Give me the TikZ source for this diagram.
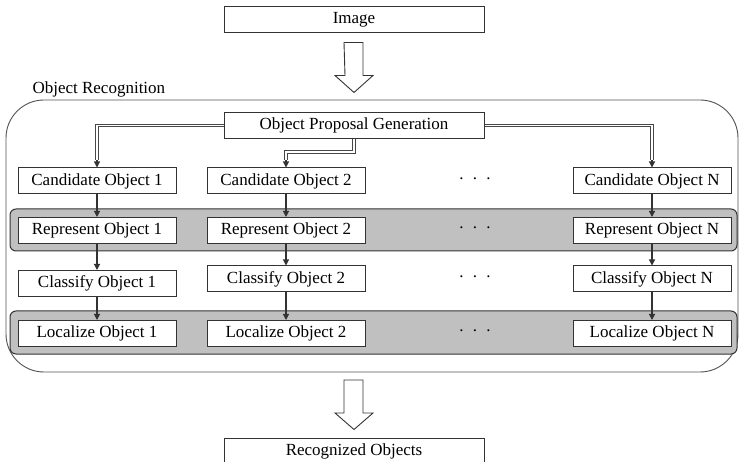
\documentclass[tikz,border=0pt]{standalone}
\usepackage{fontspec}
\setmainfont{Liberation Serif}
\usetikzlibrary{arrows.meta,calc}
\definecolor{edge}{HTML}{333333}
\definecolor{band}{HTML}{C0C0C0}
\begin{document}
\begin{tikzpicture}[x=1pt,y=-1pt,
  every node/.style={font=\rmfamily\fontsize{17}{20}\selectfont},
  stage/.style={draw=edge, line width=1pt, fill=white, minimum width=158pt,
                minimum height=26pt, inner sep=0pt},
  wide/.style={stage, minimum width=260pt},
  flow/.style={draw=edge, line width=1.1pt, -{Triangle[length=6pt,width=6pt]}},
  feed/.style={draw=edge!90, line width=3.2pt, line join=miter,
               postaction={draw=white, line width=1.4pt}},
  bandbox/.style={draw=edge, line width=1pt, fill=band, rounded corners=6pt},
  hollow/.style={draw=edge, line width=0.9pt, fill=white, line join=miter},
  dots/.style={inner sep=0pt}]

\useasboundingbox (0,0) rectangle (739,462);
\clip (0,0) rectangle (739,462);

% outer container of the recognition stage
\draw[draw=edge!85, line width=0.9pt, rounded corners=38pt] (6,100) rectangle (738,372);
\node[anchor=west] (title) at (29,89) {Object Recognition};

% shaded rows
\draw[bandbox] (10,209) rectangle (737,251);
\draw[bandbox] (10,311) rectangle (737,354);

% input / output
\node[wide] (img) at (354,20) {Image};
\node[wide] (opg) at (354,125.5) {Object Proposal Generation};
\node[wide, minimum height=30pt] (out) at (354,453) {};
\node (outtxt) at (354,451) {Recognized Objects};

% columns
\foreach \c/\x/\n in {1/97/1, 2/286/2, N/652/N}{
  \node[stage] (cand\c) at (\x,181) {Candidate Object \n};
  \node[stage] (rep\c)  at (\x,230.5) {Represent Object \n};
  \node[stage] (loc\c)  at (\x,333.5) {Localize Object \n};
}
\node[stage] (cls1) at (97,283.5) {Classify Object 1};
\node[stage] (cls2) at (286,279) {Classify Object 2};
\node[stage] (clsN) at (652,279) {Classify Object N};

% ellipses between column 2 and column N
\foreach \r/\y in {a/179, b/228, c/277, d/331}{
  \node[dots] (dot\r) at (475,\y) {.\hspace{0.55em}.\hspace{0.55em}.};
}

% proposal feeds (double lines) ending in a single arrow head
\coordinate (f1) at ($(cand1.north)+(0,-7)$);
\coordinate (f2) at ($(cand2.north)+(0,-7)$);
\coordinate (fN) at ($(candN.north)+(0,-7)$);
\draw[feed] (opg.west) -| (f1);
\draw[feed] (opg.east) -| (fN);
\draw[feed] (opg.south) |- ($(cand2.north)+(0,-15.5)$) -- (f2);
\draw[flow] (f1) -- (cand1.north);
\draw[flow] (f2) -- (cand2.north);
\draw[flow] (fN) -- (candN.north);

% column flows
\foreach \c in {1,2,N}{
  \draw[flow] (cand\c) -- (rep\c);
  \draw[flow] (rep\c) -- (cls\c);
  \draw[flow] (cls\c) -- (loc\c);
}

% hollow block arrows
\draw[hollow] ($(img.south)+(-10,9)$) -- ++(19,0) -- ++(0,33) -- ++(10,0)
  -- ($(img.south)+(0,59)$) -- ++(-19,-17) -- ++(10,0) -- cycle;
\draw[hollow] (344,380) -- (363,380) -- (363,413) -- (373,413)
  -- ($(out.north)+(0,-8)$) -- (335,413) -- (344,413) -- cycle;
\end{tikzpicture}
\end{document}
